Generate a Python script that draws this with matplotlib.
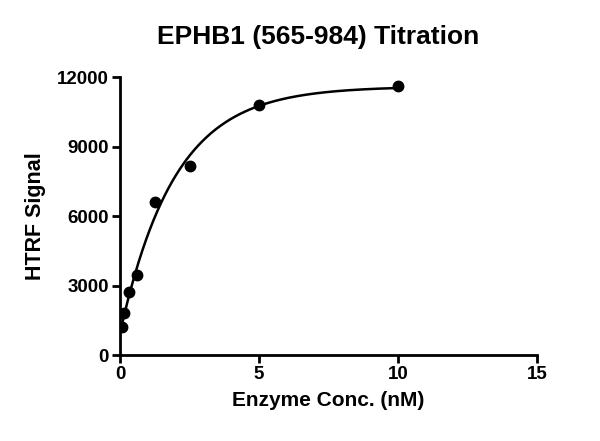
import numpy as np
import matplotlib.pyplot as plt

plt.rcParams['font.family'] = ['Liberation Sans', 'DejaVu Sans']
plt.rcParams['font.weight'] = 'bold'

# data
conc = [0.078, 0.156, 0.3125, 0.625, 1.25, 2.5, 5, 10]
signal = [1200, 1800, 2700, 3450, 6600, 8150, 10800, 11600]
x_ticks = [0, 5, 10, 15]
y_ticks = [0, 3000, 6000, 9000, 12000]

x = np.array(conc)
y = np.array(signal)

# one phase association fit: y = y0 + (top - y0) * (1 - exp(-k x))
best = None
for k in np.linspace(0.05, 2, 2000):
    A = np.column_stack([np.ones_like(x), 1 - np.exp(-k * x)])
    coef, res, _, _ = np.linalg.lstsq(A, y, rcond=None)
    err = np.sum((A @ coef - y) ** 2)
    if best is None or err < best[0]:
        best = (err, k, coef)
_, k, (y0, span) = best
xf = np.linspace(0, 10, 300)
yf = y0 + span * (1 - np.exp(-k * xf))

fig = plt.figure(figsize=(6, 4.41), dpi=100)
ax = fig.add_axes([0.2, 0.195, 0.695, 0.63])
ax.plot(xf, yf, color='black', lw=1.8)
ax.plot(x, y, 'o', color='black', ms=7.5)

ax.set_xlim(0, 15)
ax.set_ylim(0, 12000)
ax.set_xticks(x_ticks)
ax.set_yticks(y_ticks)
for s in ['top', 'right']:
    ax.spines[s].set_visible(False)
for s in ['left', 'bottom']:
    ax.spines[s].set_linewidth(2)
ax.tick_params(width=2, length=6, labelsize=13.5, direction='out', pad=2)
for lab in ax.get_xticklabels() + ax.get_yticklabels():
    lab.set_fontweight('bold')

ax.set_xlabel('Enzyme Conc. (nM)', fontsize=15, fontweight='bold', labelpad=6)
ax.set_ylabel('HTRF Signal', fontsize=15.5, fontweight='bold', labelpad=8)
fig.text(0.53, 0.915, 'EPHB1 (565-984) Titration', fontsize=19, fontweight='bold',
         ha='center', va='center')

fig.savefig('out.png', dpi=100)
